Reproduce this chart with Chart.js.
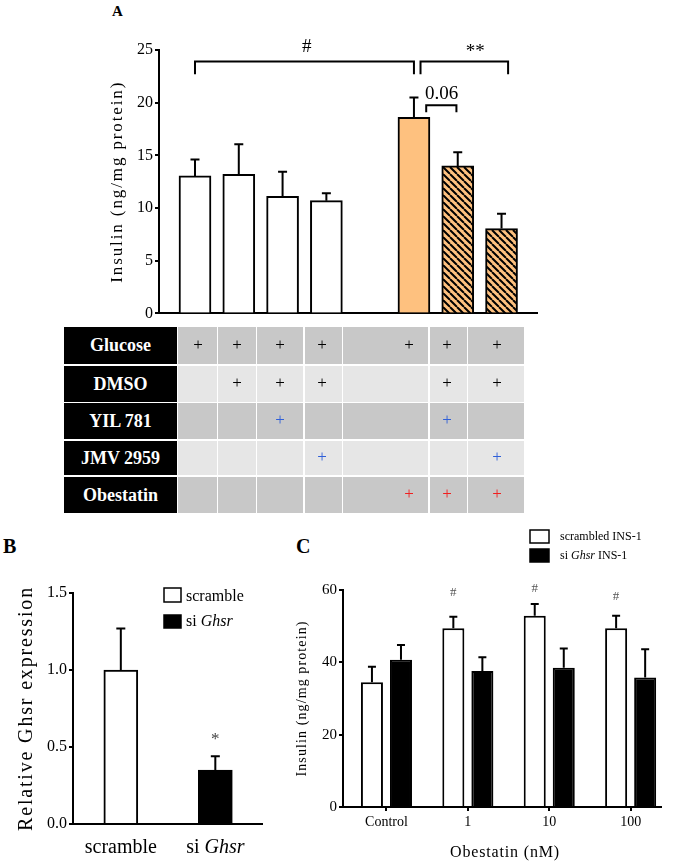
<!DOCTYPE html>
<html lang="en">
<head>
<meta charset="UTF-8">
<title>Obestatin and Ghsr - insulin secretion</title>
<script src="https://cdn.jsdelivr.net/npm/chart.js"></script>
<style>
  body { margin: 0; background: #fff; font-family: 'Liberation Serif', 'Times New Roman', serif; }
  #page { position: relative; width: 675px; height: 866px; overflow: hidden; }
  canvas { position: absolute; }
  .panel { position: absolute; font-weight: bold; line-height: 1; }
  .cell { position: absolute; display: flex; align-items: center; justify-content: center; }
  .head { background: #000; color: #fff; font-weight: bold; font-size: 18px; }
  .plus { position: absolute; width: 20px; height: 20px; font-size: 17px; line-height: 20px; text-align: center;
          will-change: transform; -webkit-font-smoothing: antialiased; }
</style>
</head>
<body>
<div id="page">
  <div class="panel" style="left:112px; top:4px; font-size:15px;">A</div>
  <div class="panel" style="left:3px; top:536px; font-size:20px;">B</div>
  <div class="panel" style="left:296px; top:536px; font-size:20px;">C</div>
  <canvas id="chartA" width="450" height="305" style="left:100px; top:20px;"></canvas>
  <div id="tableA"></div>
  <canvas id="chartB" width="270" height="296" style="left:0px; top:570px;"></canvas>
  <canvas id="chartC" width="385" height="346" style="left:290px; top:520px;"></canvas>
</div>

<script>
// ---- data ----
// A: insulin secretion (ng/mg protein), slot 4 is the empty gap between groups
const groupsA = ['Glucose', 'Glucose + DMSO', 'Glucose + DMSO + YIL 781', 'Glucose + DMSO + JMV 2959', '',
                 'Glucose + Obestatin', 'Glucose + DMSO + YIL 781 + Obestatin', 'Glucose + DMSO + JMV 2959 + Obestatin'];
const insulinA = [13.05, 13.2, 11.1, 10.7, null, 18.6, 14.0, 8.05];
const semA = [1.55, 2.85, 2.35, 0.7, null, 1.9, 1.3, 1.4];

// treatment table under A
const tableRows = ['Glucose', 'DMSO', 'YIL 781', 'JMV 2959', 'Obestatin'];
const tableMarks = [
  ['+', '+', '+', '+', '+', '+', '+'],
  ['',  '+', '+', '+', '',  '+', '+'],
  ['',  '',  '+', '',  '',  '+', ''],
  ['',  '',  '',  '+', '',  '',  '+'],
  ['',  '',  '',  '',  '+', '+', '+']
];

// B: relative Ghsr expression
const groupsB = ['scramble', 'si Ghsr'];
const ghsrB = [1.0, 0.35];
const semB = [0.27, 0.09];

// C: insulin vs obestatin dose
const dosesC = ['Control', '1', '10', '100'];
const scrambledC = [34.5, 49.4, 52.9, 49.4];
const scrambledSemC = [4.3, 3.2, 3.2, 3.5];
const siGhsrC = [40.7, 37.6, 38.5, 35.8];
const siGhsrSemC = [4.1, 3.8, 5.3, 7.8];

// ---- styling helpers ----
const SERIF = "'Liberation Serif', 'Times New Roman', serif";
const ORANGE = '#FEC17F';

function hatchPattern() {
  const s = 7;
  const c = document.createElement('canvas');
  c.width = s; c.height = s;
  const g = c.getContext('2d');
  g.fillStyle = ORANGE; g.fillRect(0, 0, s, s);
  g.strokeStyle = '#000'; g.lineWidth = 2;
  g.beginPath();
  for (const k of [-s, 0, s]) { g.moveTo(k, 0); g.lineTo(k + s, s); }
  g.stroke();
  return g.createPattern(c, 'repeat');
}

function spacedText(ctx, text, cx, cy, size, width, rotate) {
  ctx.save();
  ctx.font = size + 'px ' + SERIF;
  ctx.fillStyle = '#000';
  const w = ctx.measureText(text).width;
  if (width && 'letterSpacing' in ctx) ctx.letterSpacing = ((width - w) / text.length) + 'px';
  ctx.translate(cx, cy);
  if (rotate) ctx.rotate(-Math.PI / 2);
  ctx.textAlign = 'center';
  ctx.textBaseline = 'middle';
  ctx.fillText(text, 0, 0);
  ctx.restore();
}

function mixedText(ctx, parts, x, y, size, align) {
  ctx.save();
  ctx.fillStyle = '#000';
  ctx.textAlign = 'left';
  ctx.textBaseline = 'alphabetic';
  const fonts = parts.map(p => (p.i ? 'italic ' : '') + size + 'px ' + SERIF);
  let total = 0;
  const ws = parts.map((p, k) => { ctx.font = fonts[k]; const w = ctx.measureText(p.t).width; total += w; return w; });
  let cx = align === 'center' ? x - total / 2 : x;
  parts.forEach((p, k) => { ctx.font = fonts[k]; ctx.fillText(p.t, cx, y); cx += ws[k]; });
  ctx.restore();
}

function legendBox(ctx, x, y, w, h, fill) {
  ctx.save();
  ctx.fillStyle = fill; ctx.strokeStyle = '#000'; ctx.lineWidth = 1.5;
  ctx.fillRect(x, y, w, h); ctx.strokeRect(x, y, w, h);
  ctx.restore();
}

// upward error bars from dataset.errors
const errorBars = {
  id: 'errorBars',
  afterDatasetsDraw(chart, args, opts) {
    const ctx = chart.ctx, y = chart.scales.y;
    chart.data.datasets.forEach((ds, di) => {
      if (!ds.errors) return;
      chart.getDatasetMeta(di).data.forEach((bar, i) => {
        const top = y.getPixelForValue(ds.data[i].y + ds.errors[i]);
        ctx.save();
        ctx.strokeStyle = '#000'; ctx.lineWidth = 2;
        ctx.beginPath();
        ctx.moveTo(bar.x, bar.y); ctx.lineTo(bar.x, top);
        ctx.moveTo(bar.x - opts.cap, top); ctx.lineTo(bar.x + opts.cap, top);
        ctx.stroke();
        ctx.restore();
      });
    });
  }
};

const yAxis = (size, min, max, step, width) => ({
  min: min, max: max,
  afterFit: s => { s.width = width; },
  ticks: { stepSize: step, color: '#000', font: { family: SERIF, size: size }, padding: 2 },
  grid: { drawOnChartArea: false, tickLength: 4, color: '#000', lineWidth: 2 },
  border: { color: '#000', width: 2 }
});

const xPlain = (min, max, height) => ({
  type: 'linear', min: min, max: max, offset: false, z: 1,
  afterFit: s => { s.height = height; },
  ticks: { display: false }, grid: { display: false, offset: false },
  border: { color: '#000', width: 2 }
});

// ---- panel A ----
const barStyleA = ['#fff', '#fff', '#fff', '#fff', null, ORANGE, 'hatch', 'hatch'];
const hatch = hatchPattern();
const ptsA = [], errA = [], fillA = [];
insulinA.forEach((v, i) => {
  if (v === null) return;
  ptsA.push({ x: i, y: v });
  errA.push(semA[i]);
  fillA.push(barStyleA[i] === 'hatch' ? hatch : barStyleA[i]);
});

// significance brackets (x in slot units, y in data units)
const bracketsA = [
  { from: 0, to: 5, y: 23.9, tip: 22.7, label: '#', lx: 2.55, ly: 24.8 },
  { from: 5.15, to: 7.15, y: 23.9, tip: 22.7, label: '**', lx: 6.4, ly: 24.3 },
  { from: 5.28, to: 5.97, y: 19.75, tip: 19.1, label: '0.06', lx: 5.63, ly: 20.37 }
];

const annotA = {
  id: 'annotA',
  afterDraw(chart) {
    const ctx = chart.ctx, x = chart.scales.x, y = chart.scales.y, a = chart.chartArea;
    ctx.save();
    ctx.strokeStyle = '#000'; ctx.lineWidth = 2;
    bracketsA.forEach(b => {
      const x1 = x.getPixelForValue(b.from), x2 = x.getPixelForValue(b.to);
      const yy = y.getPixelForValue(b.y), yt = y.getPixelForValue(b.tip);
      ctx.beginPath();
      ctx.moveTo(x1, yt); ctx.lineTo(x1, yy); ctx.lineTo(x2, yy); ctx.lineTo(x2, yt);
      ctx.stroke();
      ctx.font = '19px ' + SERIF; ctx.fillStyle = '#000'; ctx.textAlign = 'center';
      ctx.fillText(b.label, x.getPixelForValue(b.lx), y.getPixelForValue(b.ly));
    });
    ctx.restore();
    spacedText(ctx, 'Insulin (ng/mg protein)', 18, (a.top + a.bottom) / 2, 17, 202, true);
  }
};

new Chart(document.getElementById('chartA'), {
  type: 'bar',
  data: {
    datasets: [{
      data: ptsA, errors: errA, backgroundColor: fillA,
      borderColor: '#000', borderWidth: 2, barThickness: 32
    }]
  },
  options: {
    responsive: false, animation: false,
    layout: { padding: { top: 30, right: 13, left: 0, bottom: 0 } },
    plugins: { legend: { display: false }, tooltip: { enabled: false }, errorBars: { cap: 4.5 } },
    scales: {
      x: xPlain(-0.822, 7.81, 8),
      y: yAxis(16, 0, 25, 5, 59)
    }
  },
  plugins: [errorBars, annotA]
});

// ---- table under A ----
const colEdges = [[178, 217], [218, 256], [257, 303], [305, 342], [343, 428], [430, 467], [468, 524]];
const plusX = [198, 237, 280, 322, 409, 447, 497];
const rowEdges = [[327, 364], [366, 402], [403, 439], [441, 475], [477, 513]];
const rowFill = ['#C8C8C8', '#E6E6E6', '#C8C8C8', '#E6E6E6', '#C8C8C8'];
const rowInk = ['#000', '#000', '#2F5FD8', '#2F5FD8', '#F02020'];
const table = document.getElementById('tableA');
let html = '';
tableRows.forEach((name, r) => {
  const [t, b] = rowEdges[r];
  html += `<div class="cell head" style="left:64px; top:${t}px; width:113px; height:${b - t}px;">${name}</div>`;
  colEdges.forEach(([l, rr], c) => {
    html += `<div class="cell" style="left:${l}px; top:${t}px; width:${rr - l}px; height:${b - t}px; background:${rowFill[r]};"></div>`;
    if (tableMarks[r][c]) {
      const top = Math.round((t + b) / 2 - 11);
      html += `<div class="plus" style="left:${plusX[c] - 10}px; top:${top}px; color:${rowInk[r]};">${tableMarks[r][c]}</div>`;
    }
  });
});
table.innerHTML = html;

// ---- panel B ----
const annotB = {
  id: 'annotB',
  afterDraw(chart) {
    const ctx = chart.ctx, x = chart.scales.x, y = chart.scales.y, a = chart.chartArea;
    mixedText(ctx, [{ t: groupsB[0] }], x.getPixelForValue(0), 283, 20, 'center');
    mixedText(ctx, [{ t: 'si ' }, { t: 'Ghsr', i: true }], x.getPixelForValue(1), 283, 20, 'center');
    spacedText(ctx, 'Relative Ghsr expression', 27, (a.top + a.bottom) / 2, 20, 245, true);
    legendBox(ctx, 164, 18, 17, 14, '#fff');
    legendBox(ctx, 164, 45, 17, 13, '#000');
    mixedText(ctx, [{ t: 'scramble' }], 186, 31, 16);
    mixedText(ctx, [{ t: 'si ' }, { t: 'Ghsr', i: true }], 186, 56, 16);
    ctx.save();
    ctx.font = '17px ' + SERIF; ctx.fillStyle = '#444'; ctx.textAlign = 'center';
    ctx.fillText('*', x.getPixelForValue(1), y.getPixelForValue(0.52));
    ctx.restore();
  }
};

new Chart(document.getElementById('chartB'), {
  type: 'bar',
  data: {
    datasets: [{
      data: ghsrB.map((v, i) => ({ x: i, y: v })), errors: semB,
      backgroundColor: ['#fff', '#000'], borderColor: '#000', borderWidth: 2, barThickness: 34
    }]
  },
  options: {
    responsive: false, animation: false,
    layout: { padding: { top: 23, right: 8, left: 0, bottom: 0 } },
    plugins: { legend: { display: false }, tooltip: { enabled: false }, errorBars: { cap: 4.5 } },
    scales: {
      x: xPlain(-0.506, 1.494, 42),
      y: yAxis(16, 0, 1.5, 0.5, 73)
    }
  },
  plugins: [errorBars, annotB]
});
const chB = Chart.getChart('chartB');
chB.options.scales.y.ticks.callback = v => v.toFixed(1);
chB.update();

// ---- panel C ----
const hashC = [null, 58.3, 59.4, 57.2];
const annotC = {
  id: 'annotC',
  afterDraw(chart) {
    const ctx = chart.ctx, y = chart.scales.y, a = chart.chartArea;
    const bars = chart.getDatasetMeta(0).data;
    ctx.save();
    ctx.font = '13px ' + SERIF; ctx.fillStyle = '#555'; ctx.textAlign = 'center';
    hashC.forEach((h, i) => { if (h !== null) ctx.fillText('#', bars[i].x, y.getPixelForValue(h)); });
    ctx.restore();
    spacedText(ctx, 'Insulin (ng/mg protein)', 12, (a.top + a.bottom) / 2, 14, 156, true);
    spacedText(ctx, 'Obestatin (nM)', (a.left + a.right) / 2 + 3, 333, 16, 110, false);
    legendBox(ctx, 240, 10, 19, 13, '#fff');
    legendBox(ctx, 240, 29, 19, 13, '#000');
    mixedText(ctx, [{ t: 'scrambled INS-1' }], 270, 20, 12);
    mixedText(ctx, [{ t: 'si ' }, { t: 'Ghsr', i: true }, { t: ' INS-1' }], 270, 39, 12);
  }
};

new Chart(document.getElementById('chartC'), {
  type: 'bar',
  data: {
    datasets: [
      { label: 'scrambled INS-1', data: scrambledC.map((v, i) => ({ x: i, y: v })), errors: scrambledSemC,
        backgroundColor: '#fff', borderColor: '#000', borderWidth: 2 },
      { label: 'si Ghsr INS-1', data: siGhsrC.map((v, i) => ({ x: i, y: v })), errors: siGhsrSemC,
        backgroundColor: '#000', borderColor: '#000', borderWidth: 2 }
    ]
  },
  options: {
    responsive: false, animation: false,
    categoryPercentage: 58 / 81.3, barPercentage: 22 / 29,
    layout: { padding: { top: 70, right: 14, left: 0, bottom: 0 } },
    plugins: { legend: { display: false }, tooltip: { enabled: false }, errorBars: { cap: 4 } },
    scales: {
      x: {
        type: 'linear', min: -0.534, max: 3.373, offset: false, z: 1,
        afterFit: s => { s.height = 59; },
        afterBuildTicks: s => { s.ticks = dosesC.map((d, i) => ({ value: i })); },
        ticks: { color: '#000', font: { family: SERIF, size: 14 }, padding: 3, callback: (v) => dosesC[v] },
        grid: { drawOnChartArea: false, offset: false, tickLength: 4, color: '#000', lineWidth: 2 },
        border: { color: '#000', width: 2 }
      },
      y: yAxis(15, 0, 60, 20, 53)
    }
  },
  plugins: [errorBars, annotC]
});
</script>
</body>
</html>
